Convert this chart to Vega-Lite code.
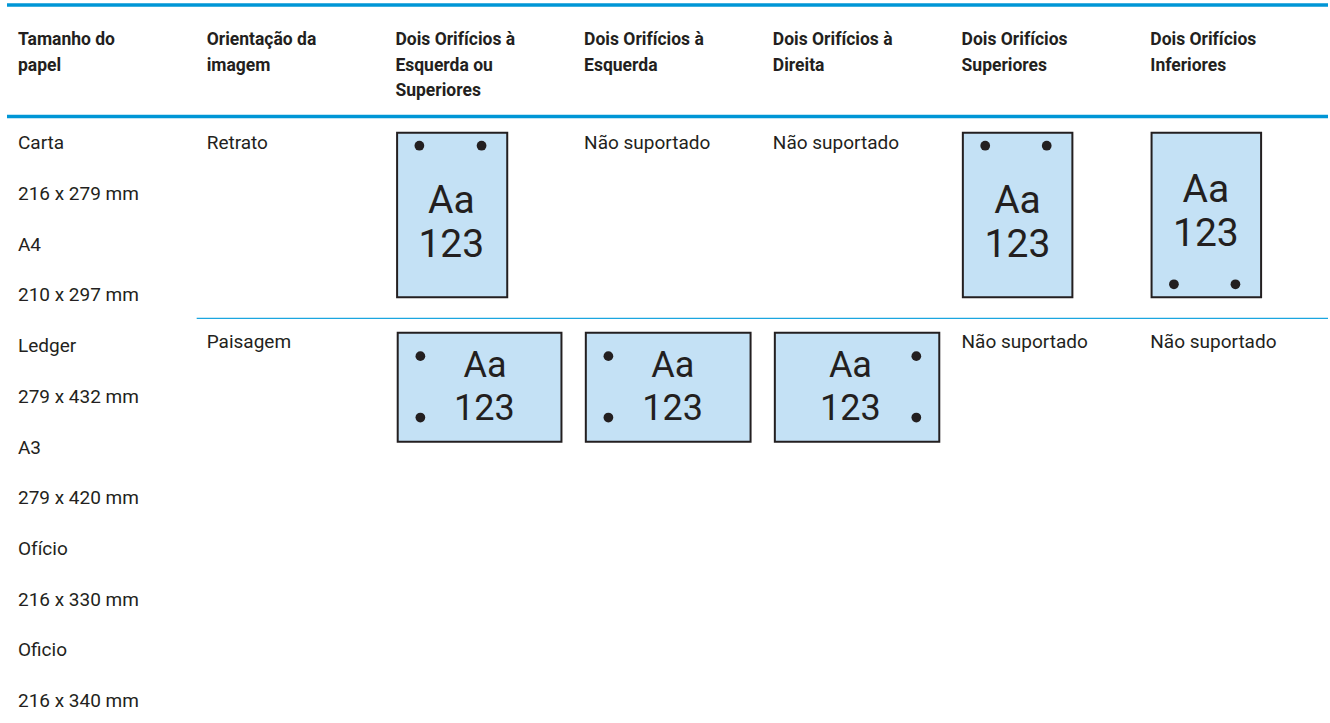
{
  "$schema": "https://vega.github.io/schema/vega-lite/v6.json",
  "width": 1330,
  "height": 723,
  "autosize": {"type": "fit", "contains": "padding"},
  "padding": 0,
  "background": "white",
  "config": {"view": {"stroke": null}},
  "datasets": {
    "rules": [
      {"kind": "top", "col": -0.0582, "col2": 6.9418, "row": -2.846},
      {"kind": "head", "col": -0.0582, "col2": 6.9418, "row": -0.647},
      {"kind": "sep", "col": 0.947, "col2": 6.9418, "row": 3.333}
    ],
    "pages": [
      {"id": "P1", "orientation": "Retrato", "col": 2.009, "col2": 2.5926, "row": -0.3274, "row2": 2.9191},
      {"id": "P4", "orientation": "Retrato", "col": 5.0069, "col2": 5.5873, "row": -0.3274, "row2": 2.9191},
      {"id": "P5", "orientation": "Retrato", "col": 6.0069, "col2": 6.5873, "row": -0.3274, "row2": 2.9191},
      {"id": "L1", "orientation": "Paisagem", "col": 2.0122, "col2": 2.8799, "row": 3.6174, "row2": 5.7673},
      {"id": "L2", "orientation": "Paisagem", "col": 3.009, "col2": 3.882, "row": 3.6174, "row2": 5.7673},
      {"id": "L3", "orientation": "Paisagem", "col": 4.0106, "col2": 4.882, "row": 3.6174, "row2": 5.7673}
    ],
    "holes": [
      {"id": "P1", "col": 2.127, "row": -0.071},
      {"id": "P1", "col": 2.4566, "row": -0.071},
      {"id": "P4", "col": 5.1254, "row": -0.071},
      {"id": "P4", "col": 5.4513, "row": -0.071},
      {"id": "P5", "col": 6.1254, "row": 2.6627},
      {"id": "P5", "col": 6.4513, "row": 2.6627},
      {"id": "L1", "col": 2.1323, "row": 4.08},
      {"id": "L1", "col": 2.1323, "row": 5.29},
      {"id": "L2", "col": 3.1286, "row": 4.08},
      {"id": "L2", "col": 3.1286, "row": 5.29},
      {"id": "L3", "col": 4.7603, "row": 4.08},
      {"id": "L3", "col": 4.7603, "row": 5.29}
    ],
    "labels": [
      {"id": "P1", "orientation": "Retrato", "col": 2.2963, "row": 1.2623, "text": "Aa"},
      {"id": "P1", "orientation": "Retrato", "col": 2.2963, "row": 2.1183, "text": "123"},
      {"id": "P4", "orientation": "Retrato", "col": 5.2963, "row": 1.2623, "text": "Aa"},
      {"id": "P4", "orientation": "Retrato", "col": 5.2963, "row": 2.1183, "text": "123"},
      {"id": "P5", "orientation": "Retrato", "col": 6.2947, "row": 1.0335, "text": "Aa"},
      {"id": "P5", "orientation": "Retrato", "col": 6.2947, "row": 1.9073, "text": "123"},
      {"id": "L1", "orientation": "Paisagem", "col": 2.4746, "row": 4.4852, "text": "Aa"},
      {"id": "L1", "orientation": "Paisagem", "col": 2.4709, "row": 5.3393, "text": "123"},
      {"id": "L2", "orientation": "Paisagem", "col": 3.4693, "row": 4.4852, "text": "Aa"},
      {"id": "L2", "orientation": "Paisagem", "col": 3.4693, "row": 5.3393, "text": "123"},
      {"id": "L3", "orientation": "Paisagem", "col": 4.4111, "row": 4.4852, "text": "Aa"},
      {"id": "L3", "orientation": "Paisagem", "col": 4.4111, "row": 5.3393, "text": "123"}
    ],
    "cells": [
      {"col": 0, "row": 0, "text": "Carta"},
      {"col": 0, "row": 1, "text": "216 x 279 mm"},
      {"col": 0, "row": 2, "text": "A4"},
      {"col": 0, "row": 3, "text": "210 x 297 mm"},
      {"col": 0, "row": 4, "text": "Ledger"},
      {"col": 0, "row": 5, "text": "279 x 432 mm"},
      {"col": 0, "row": 6, "text": "A3"},
      {"col": 0, "row": 7, "text": "279 x 420 mm"},
      {"col": 0, "row": 8, "text": "Ofício"},
      {"col": 0, "row": 9, "text": "216 x 330 mm"},
      {"col": 0, "row": 10, "text": "Oficio"},
      {"col": 0, "row": 11, "text": "216 x 340 mm"},
      {"col": 1, "row": 0, "text": "Retrato"},
      {"col": 1, "row": 3.92, "text": "Paisagem"},
      {"col": 3, "row": 0, "text": "Não suportado"},
      {"col": 4, "row": 0, "text": "Não suportado"},
      {"col": 5, "row": 3.92, "text": "Não suportado"},
      {"col": 6, "row": 3.92, "text": "Não suportado"}
    ],
    "headers": [
      {"col": 0, "row": -2.057, "text": "Tamanho do\npapel"},
      {"col": 1, "row": -2.057, "text": "Orientação da\nimagem"},
      {"col": 2, "row": -2.057, "text": "Dois Orifícios à\nEsquerda ou\nSuperiores"},
      {"col": 3, "row": -2.057, "text": "Dois Orifícios à\nEsquerda"},
      {"col": 4, "row": -2.057, "text": "Dois Orifícios à\nDireita"},
      {"col": 5, "row": -2.057, "text": "Dois Orifícios\nSuperiores"},
      {"col": 6, "row": -2.057, "text": "Dois Orifícios\nInferiores"}
    ]
  },
  "encoding": {
    "x": {"field": "col", "type": "quantitative", "scale": {"domain": [-0.09524, 6.9418], "nice": false, "zero": false}, "axis": null},
    "y": {"field": "row", "type": "quantitative", "scale": {"domain": [-2.94477, 11.31558], "reverse": true, "nice": false, "zero": false}, "axis": null}
  },
  "layer": [
    {
      "data": {"name": "rules"},
      "transform": [{"filter": "datum.kind !== 'sep'"}],
      "mark": {"type": "rule", "color": "#0096d6", "strokeWidth": 3.6},
      "encoding": {"x2": {"field": "col2"}}
    },
    {
      "data": {"name": "rules"},
      "transform": [{"filter": "datum.kind === 'sep'"}],
      "mark": {"type": "rule", "color": "#1ba6e0", "strokeWidth": 1.3},
      "encoding": {"x2": {"field": "col2"}}
    },
    {
      "data": {"name": "pages"},
      "mark": {"type": "rect", "fill": "#c4e1f5", "stroke": "#231f20", "strokeWidth": 2},
      "encoding": {"x2": {"field": "col2"}, "y2": {"field": "row2"}}
    },
    {
      "data": {"name": "holes"},
      "mark": {"type": "circle", "color": "#231f20", "opacity": 1, "size": 95},
      "encoding": {}
    },
    {
      "data": {"name": "labels"},
      "transform": [{"filter": "datum.orientation === 'Retrato'"}],
      "mark": {"type": "text", "font": "Roboto", "fontSize": 39, "align": "center", "baseline": "alphabetic", "color": "#231f20"},
      "encoding": {"text": {"field": "text"}}
    },
    {
      "data": {"name": "labels"},
      "transform": [{"filter": "datum.orientation === 'Paisagem'"}],
      "mark": {"type": "text", "font": "Roboto", "fontSize": 36, "align": "center", "baseline": "alphabetic", "color": "#231f20"},
      "encoding": {"text": {"field": "text"}}
    },
    {
      "data": {"name": "cells"},
      "mark": {"type": "text", "font": "Roboto", "fontSize": 19, "align": "left", "baseline": "alphabetic", "color": "#231f20"},
      "encoding": {"text": {"field": "text"}}
    },
    {
      "data": {"name": "headers"},
      "mark": {"type": "text", "font": "Roboto", "fontSize": 17.5, "fontWeight": "bold", "align": "left", "baseline": "alphabetic", "lineBreak": "\n", "lineHeight": 25.7, "color": "#231f20"},
      "encoding": {"text": {"field": "text"}}
    }
  ]
}
